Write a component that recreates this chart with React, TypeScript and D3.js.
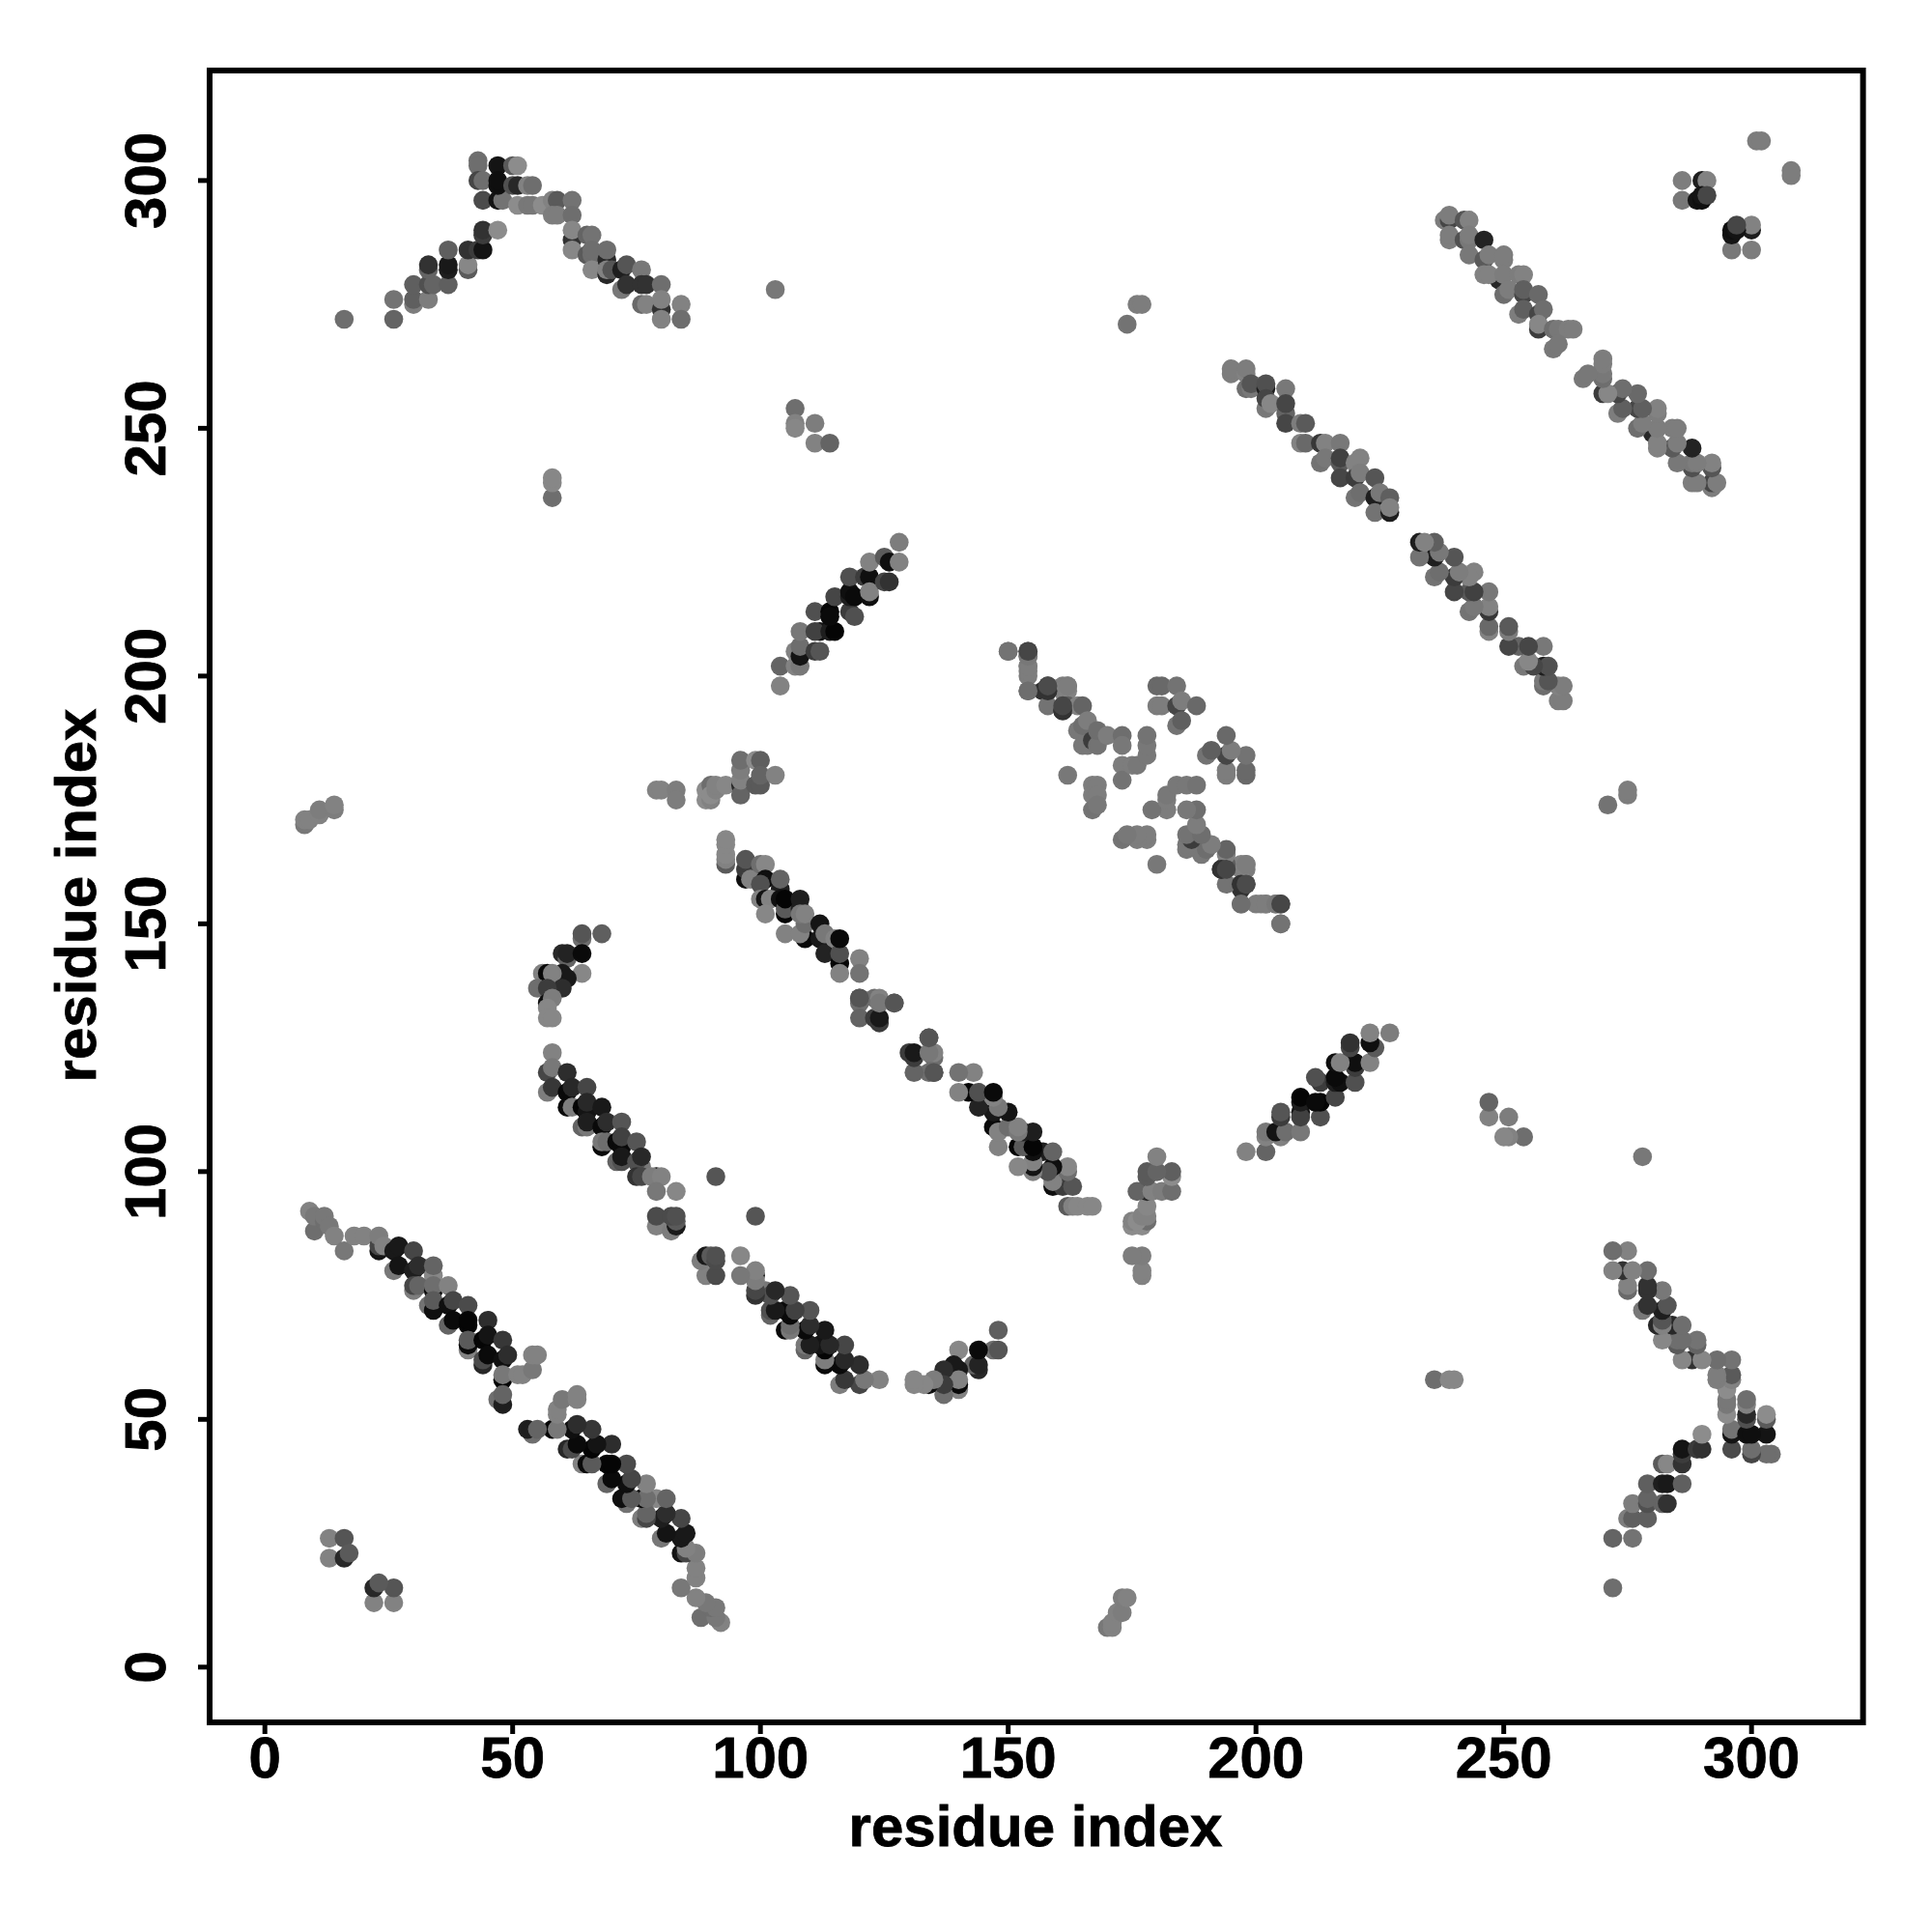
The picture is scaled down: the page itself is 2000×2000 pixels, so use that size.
import React from "react";
import * as d3 from "d3";

// Each contact: [residue i, residue j, grey level]. The map is symmetric: every contact is also drawn as (j, i).
type Contact = [number, number, number];

const tickValues = [0, 50, 100, 150, 200, 250, 300];
const axisTitle = "residue index";

const chevron: Contact[] = [
  [16,272,110],[26,272,100],[26,276,115],[30,275,125],[30,276,95],[33,276,125],[30,279,95],[33,279,80],[34,279,100],[37,279,95],
  [33,282,100],[33,283,50],[37,282,30],[37,283,25],[37,286,95],[41,282,90],[41,283,135],[41,286,50],[43,286,60],[44,286,20],
  [44,289,60],[44,290,50],[47,290,140],[44,296,75],[47,296,20],[48,296,115],[43,304,110],[43,303,110],[43,300,70],[44,300,110],
  [47,303,20],[47,299,15],[47,300,15],[50,303,90],[51,303,140],[50,299,80],[51,299,40],[53,299,130],[54,299,110],
  [51,295,140],[53,295,120],[54,295,120],[56,295,140],[58,296,130],[59,296,90],[62,296,115],[58,293,125],[59,293,125],[62,293,110],
  [62,288,50],[62,290,135],[62,286,135],[65,289,100],[66,289,115],[65,285,90],[66,285,110],[66,286,110],[66,282,135],
  [69,284,40],[69,286,110],[69,281,40],[69,282,130],[70,282,85],[72,282,30],[73,283,85],[72,278,120],[73,279,50],[76,282,120],
  [76,279,50],[77,279,50],[80,279,110],[76,275,105],[77,275,130],[80,274,50],[80,276,130],[80,272,130],[84,275,130],[84,272,110],
];

const isolatedUpper: Contact[] = [
  [103,278,120],[107,254,110],[107,251,130],[107,250,135],[111,251,125],[111,247,130],[114,247,100],
  [58,236,110],[58,239,135],[58,240,135],[174,271,115],[176,275,125],[177,275,125],
  [8,170,120],[8,171,130],[9,171,130],[11,172,130],[11,173,125],[14,173,125],[14,174,130],
  [79,177,130],[80,177,130],[83,177,125],[83,175,125],
];

const strandLate: Contact[] = [
  [104,198,130],[104,202,100],[107,202,130],[108,202,120],[107,205,130],[108,204,20],[108,206,110],[111,205,60],[112,205,85],
  [108,209,120],[112,209,20],[111,209,65],[114,209,30],[115,209,5],[111,213,80],[114,213,5],[114,212,10],[118,213,60],[119,212,80],
  [115,216,70],[118,216,30],[118,217,15],[119,216,10],[118,220,80],[121,220,60],[122,220,15],[122,216,15],[122,217,130],
  [125,219,70],[126,219,50],[122,223,130],[125,224,90],[126,223,15],[128,223,130],[128,227,125],
];

const tailCluster: Contact[] = [
  [89,175,140],[90,175,130],[89,177,140],[90,178,110],[90,176,140],[91,177,130],[91,178,130],[93,178,135],
  [96,178,40],[96,176,100],[96,179,130],[96,181,125],[96,183,110],[99,183,140],[100,183,95],[99,178,90],[100,178,90],[100,180,100],[103,180,130],
];

const longStrand: Contact[] = [
  [93,162,90],[93,163,130],[93,164,135],[93,166,135],[93,167,135],[97,159,15],[97,161,60],[97,163,85],[98,159,130],
  [100,162,110],[101,162,135],[101,159,15],[100,158,80],[104,157,30],[104,159,100],[100,155,130],[101,155,20],[102,155,130],[101,152,135],
  [104,155,15],[105,152,5],[105,153,90],[105,155,5],[108,153,30],[108,155,30],[105,148,130],[109,147,10],[108,148,130],[109,150,110],[108,152,120],[109,152,130],
  [112,147,25],[112,150,20],[113,144,35],[113,148,120],[115,147,130],[116,142,5],[116,144,80],[116,147,10],[116,140,130],
  [120,143,130],[120,140,115],[120,135,65],[120,134,110],[120,131,100],[123,135,110],[124,135,130],[127,134,90],[124,130,60],[123,131,60],[124,131,25],
  [120,135,85],[124,134,120],[127,134,85],
];

const hairpin: Contact[] = [
  [64,147,110],[64,148,85],[68,148,95],[60,144,40],[61,143,100],[61,144,35],[64,144,10],[64,140,135],[60,140,25],[61,139,25],
  [56,140,130],[57,140,10],[58,140,130],[60,137,45],[55,137,110],[57,137,60],[57,134,15],[58,135,125],[57,133,135],[57,131,135],[58,131,135],
];

const midStrand: Contact[] = [
  [58,124,130],[57,120,70],[58,121,120],[61,120,45],[57,116,125],[58,117,55],[61,116,10],[62,117,40],[65,117,70],
  [61,113,10],[62,113,125],[64,113,5],[65,112,20],[65,114,40],[68,113,25],[64,109,100],[65,109,120],[65,110,30],
  [68,109,10],[69,110,45],[72,110,85],[68,105,10],[68,106,120],[69,106,110],[71,106,10],[72,105,10],[72,107,65],[75,106,85],
  [71,102,100],[72,102,80],[72,103,25],[76,101,120],[75,102,80],[76,103,40],[75,99,50],[76,99,70],[79,99,15],[78,99,125],[80,99,130],
  [79,96,120],[83,96,135],[91,99,85],[79,89,130],[79,91,75],[82,88,125],[83,89,25],[83,90,90],[82,91,75],[83,91,80],
];

const firstStrand: Contact[] = [
  [9,92,130],[10,88,110],[10,91,120],[12,90,110],[12,91,120],[13,89,120],[14,87,130],[16,84,120],[18,87,130],[20,87,130],
  [23,84,20],[23,85,70],[23,87,125],[24,85,130],[26,84,25],[27,85,25],[30,84,70],[26,80,120],[27,81,20],[30,80,30],[31,81,45],
  [34,79,135],[34,81,100],[30,76,125],[30,77,70],[31,77,100],[34,76,10],[34,77,110],[37,77,130],[33,73,115],[34,72,15],[34,74,90],
  [37,73,15],[38,74,70],[41,73,75],[37,69,100],[38,70,10],[41,69,5],[41,70,5],[45,70,45],[41,64,130],[41,65,10],[41,66,90],
  [44,66,5],[45,67,20],[48,66,55],[44,61,40],[44,62,75],[45,63,10],[48,62,15],[49,63,45],
  [48,58,5],[48,59,120],[51,59,130],[52,59,130],[54,60,120],[54,63,130],[55,63,130],[47,54,110],[48,53,30],[48,55,100],
];

const nearDiagonal: Contact[] = [
  [13,26,130],[16,26,85],[13,22,130],[16,22,40],[17,23,90],
];

const helixPairA: Contact[] = [
  [195,261,125],[195,262,125],[198,261,130],[198,262,125],[198,258,110],[199,258,120],[199,259,85],[202,258,30],[202,259,80],[206,258,120],
  [202,254,120],[202,256,70],[203,255,135],[206,253,100],[206,255,70],[206,251,70],[209,251,125],[210,251,90],
  [209,247,130],[210,247,105],[213,247,55],[214,247,130],[217,247,120],[213,243,115],[214,244,120],[217,243,90],[217,244,65],[217,240,70],
  [221,244,130],[220,243,130],[220,240,60],[221,241,125],[224,240,85],[220,236,115],[221,237,110],[224,236,30],[225,237,120],[227,236,95],
  [224,233,115],[227,233,30],[227,234,130],
];

const helixPairB: Contact[] = [
  [238,292,125],[239,292,70],[239,293,125],[242,292,85],[243,292,130],[239,288,125],[239,289,125],[242,288,80],[243,288,120],[243,289,125],[246,288,35],
  [243,285,120],[246,284,90],[247,285,125],[250,284,125],[250,285,125],[249,280,40],[246,281,130],[247,281,130],[250,281,125],[253,281,125],[254,281,130],
  [250,277,110],[251,278,125],[254,277,70],[254,278,95],[257,277,105],[253,273,125],[254,274,95],[257,273,70],[258,274,110],
  [257,270,60],[257,271,135],[260,270,110],[261,270,120],[263,270,125],[264,270,125],[260,266,120],[261,267,120],
];

const cornerCluster: Contact[] = [
  [286,300,125],[286,296,120],[290,300,30],[291,300,130],[289,296,20],[290,296,15],[290,297,20],[291,297,70],
  [301,308,125],[302,308,125],
];

const crossCluster: Contact[] = [
  [150,205,110],[154,204,95],[154,205,75],[154,202,125],[154,200,125],[154,197,120],[157,197,50],[158,198,85],[158,194,115],
  [161,198,125],[162,198,125],[161,197,130],[162,197,130],[161,193,50],[162,194,95],[164,194,130],[165,194,100],
  [164,189,120],[165,190,110],[166,191,125],[165,186,120],[166,186,120],[167,187,60],[168,186,115],[168,189,110],[170,188,125],
  [173,188,110],[173,186,120],[173,182,125],[173,179,115],[175,182,125],[176,182,120],[178,184,120],[178,186,120],[178,188,115],
  [162,180,120],[167,178,125],[168,178,125],[167,176,125],[168,176,125],[167,173,115],[168,174,120],
  [180,198,105],[181,198,105],[184,198,115],[180,194,125],[181,194,125],[184,194,70],[185,195,125],[188,194,105],[184,190,115],[185,191,95],
  [161,193,50],[161,194,70],[162,198,125],[158,197,50],[158,198,75],[154,197,110],[154,201,125],[154,202,125],[154,204,120],[154,205,70],[150,205,115],
];

const contacts: Contact[] = [
  ...chevron, ...isolatedUpper, ...strandLate, ...tailCluster, ...longStrand, ...hairpin,
  ...midStrand, ...firstStrand, ...nearDiagonal, ...helixPairA, ...helixPairB, ...cornerCluster, ...crossCluster,
];

const x = d3.scaleLinear().domain([-11.15, 322.5]).range([217, 1928.6]);
const y = d3.scaleLinear().domain([-11.15, 322.2]).range([1783, 73]);
const font = '"Liberation Sans", Arial, Helvetica, sans-serif';
const grey = (g: number) => d3.rgb(g, g, g).formatHex();

export default function App() {
  return (
    <svg width={2000} height={2000} style={{ position: "absolute", left: 0, top: 0, background: "#fff" }} fontFamily={font} fontWeight="bold">
      <g>
        {contacts.map(([i, j, g], k) => (
          <circle key={"a" + k} cx={x(i)} cy={y(j)} r={9.8} fill={grey(g)} />
        ))}
        {contacts.map(([i, j, g], k) => (
          <circle key={"b" + k} cx={x(j)} cy={y(i)} r={9.8} fill={grey(g)} />
        ))}
      </g>
      <rect x={217} y={73} width={1711.6} height={1710} fill="none" stroke="#000" strokeWidth={6} />
      {tickValues.map((t) => (
        <g key={"x" + t}>
          <line x1={x(t)} x2={x(t)} y1={1783} y2={1795} stroke="#000" strokeWidth={5} />
          <text x={x(t)} y={1840} textAnchor="middle" fontSize={60} stroke="#000" strokeWidth={0.8}>{t}</text>
        </g>
      ))}
      {tickValues.map((t) => (
        <g key={"y" + t}>
          <line x1={217} x2={205} y1={y(t)} y2={y(t)} stroke="#000" strokeWidth={5} />
          <text transform={`translate(171,${y(t)}) rotate(-90)`} textAnchor="middle" fontSize={60} stroke="#000" strokeWidth={0.8}>{t}</text>
        </g>
      ))}
      <text x={1072} y={1911} textAnchor="middle" fontSize={60} stroke="#000" strokeWidth={0.8}>{axisTitle}</text>
      <text transform={`translate(99,927) rotate(-90)`} textAnchor="middle" fontSize={60} stroke="#000" strokeWidth={0.8}>{axisTitle}</text>
    </svg>
  );
}
